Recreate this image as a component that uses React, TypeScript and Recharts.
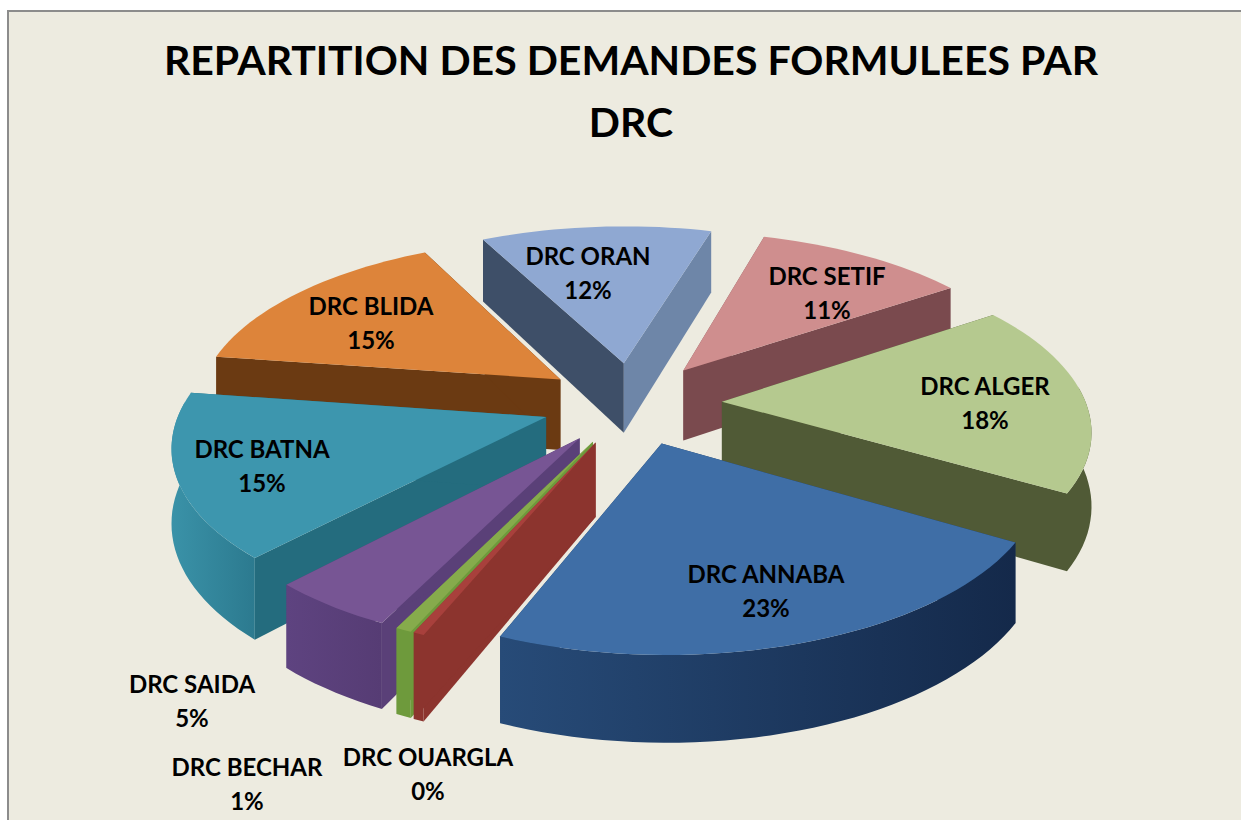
import React from 'react';
import { Pie, PieChart } from 'recharts';

const TITLE = ['REPARTITION DES DEMANDES FORMULEES PAR', 'DRC'];

const NAMES = [
  'DRC ORAN',
  'DRC SETIF',
  'DRC ALGER',
  'DRC ANNABA',
  'DRC OUARGLA',
  'DRC BECHAR',
  'DRC SAIDA',
  'DRC BATNA',
  'DRC BLIDA',
];
const VALUES = [12, 11, 18, 22.7, 0.4, 0.6, 4.7, 15.4, 15.2];

const TOP = ['#8FA8D2', '#CF8E8E', '#B5C98F', '#3F6EA6', '#A8403C', '#86AB4C', '#775594', '#3D96AE', '#DD843A'];
const SIDE_START = ['#3E4F68', '#8A5558', '#505A36', '#1E3D63', '#8C342E', '#6E9A3C', '#5A4078', '#246C7E', '#6B3A12'];
const SIDE_END = ['#6E86A8', '#7A4A4E', '#505A36', '#1E3D63', '#8C342E', '#6E9A3C', '#5A4078', '#246C7E', '#6B3A12'];
const RIM_LEFT = ['#3E4F68', '#7A4A4E', '#505A36', '#274B78', '#8C342E', '#6E9A3C', '#5E4380', '#3A92A8', '#6B3A12'];
const RIM_RIGHT = ['#3E4F68', '#7A4A4E', '#505A36', '#14294A', '#8C342E', '#6E9A3C', '#563C74', '#2C7A8F', '#6B3A12'];

// back to front, so nearer slices cover the walls of farther ones
const DRAW_ORDER = ['DRC ORAN', 'DRC SETIF', 'DRC BLIDA', 'DRC ALGER', 'DRC BATNA', 'DRC SAIDA', 'DRC BECHAR', 'DRC OUARGLA', 'DRC ANNABA'];

const data = NAMES.map((name, i) => ({ name, value: VALUES[i], fill: TOP[i] }));

const WIDTH = 1241;
const HEIGHT = 820;
const CX = 632;
const CY = 403;
const RADIUS = 364;
const FONT = 'Lato, Carlito, sans-serif';

// perspective settings of the 3D look
const TILT = 0.46;
const DEPTH = 2500;
const EXPLODE = 90;
const WALL = 72;

const LABEL_AT: Record<string, [number, number]> = {
  'DRC ORAN': [588, 272],
  'DRC SETIF': [827, 292],
  'DRC ALGER': [985, 402],
  'DRC ANNABA': [766, 590],
  'DRC BLIDA': [371, 322],
  'DRC BATNA': [262, 465],
  'DRC SAIDA': [192, 700],
  'DRC BECHAR': [247, 783],
  'DRC OUARGLA': [428, 773],
};

const RAD = Math.PI / 180;

function project(cx: number, cy: number, x: number, z: number, drop: number) {
  const s = 1 / (1 + z / DEPTH);
  return [cx + x * s, cy - TILT * z * s + drop * s];
}

const toPath = (pts: number[][]) =>
  'M' + pts.map((p) => `${p[0].toFixed(1)},${p[1].toFixed(1)}`).join('L') + 'Z';

function Slice3D(props: any) {
  const { cx, cy, outerRadius, startAngle, endAngle, payload } = props;
  const i = NAMES.indexOf(payload.name);
  // compass angles: 0 is the far side of the pie, growing clockwise
  const a0 = 90 - startAngle;
  const a1 = 90 - endAngle;
  const mid = ((a0 + a1) / 2) * RAD;
  const ox = EXPLODE * Math.sin(mid);
  const oz = EXPLODE * Math.cos(mid);

  const rim = (deg: number, drop: number) =>
    project(cx, cy, ox + outerRadius * Math.sin(deg * RAD), oz + outerRadius * Math.cos(deg * RAD), drop);
  const arc = (from: number, to: number, drop: number) => {
    const n = Math.max(1, Math.ceil(Math.abs(to - from) / 2));
    return Array.from({ length: n + 1 }, (_, k) => rim(from + ((to - from) * k) / n, drop));
  };
  const tipTop = project(cx, cy, ox, oz, 0);
  const tipLow = project(cx, cy, ox, oz, WALL);

  const norm = a0 < 0 ? 360 : 0;
  const rimFrom = Math.max(a0 + norm, 85);
  const rimTo = Math.min(a1 + norm, 275);
  const id = `rim-${i}`;

  return (
    <g>
      <defs>
        <linearGradient id={id} x1="0" y1="0" x2="1" y2="0">
          <stop offset="0%" stopColor={RIM_LEFT[i]} />
          <stop offset="100%" stopColor={RIM_RIGHT[i]} />
        </linearGradient>
      </defs>
      <path d={toPath([tipTop, rim(a0, 0), rim(a0, WALL), tipLow])} fill={SIDE_START[i]} />
      <path d={toPath([tipTop, rim(a1, 0), rim(a1, WALL), tipLow])} fill={SIDE_END[i]} />
      {rimTo > rimFrom && (
        <path
          d={toPath([...arc(rimFrom, rimTo, 0), ...arc(rimTo, rimFrom, WALL)])}
          fill={`url(#${id})`}
        />
      )}
      <path d={toPath([tipTop, ...arc(a0, a1, 0)])} fill={TOP[i]} />
    </g>
  );
}

function sliceLabel(props: any) {
  const name = props.payload?.name ?? props.name;
  const [x, y] = LABEL_AT[name];
  return (
    <text x={x} textAnchor="middle" fontFamily={FONT} fontWeight={700} fontSize={24} fill="#000">
      <tspan x={x} y={y - 7}>{name}</tspan>
      <tspan x={x} y={y + 27}>{`${Math.round(props.percent * 100)}%`}</tspan>
    </text>
  );
}

export default function App() {
  return (
    <div
      style={{
        position: 'absolute',
        left: 0,
        top: 0,
        width: WIDTH,
        height: HEIGHT,
        overflow: 'hidden',
        background: '#fff',
      }}
    >
      <div
        style={{
          position: 'absolute',
          left: 7,
          top: 10,
          width: WIDTH,
          height: HEIGHT,
          background: '#EDEBE0',
          borderLeft: '2px solid #8C8C8C',
          borderTop: '2px solid #8C8C8C',
        }}
      />
      <div
        style={{
          position: 'absolute',
          left: 0,
          top: 29,
          width: 1262,
          textAlign: 'center',
          fontFamily: FONT,
          fontWeight: 700,
          fontSize: 41,
          lineHeight: '62px',
          color: '#000',
        }}
      >
        {TITLE.map((line) => (
          <div key={line}>{line}</div>
        ))}
      </div>
      <div style={{ position: 'absolute', left: 0, top: 0 }}>
        <PieChart width={WIDTH} height={HEIGHT} margin={{ top: 0, right: 0, bottom: 0, left: 0 }}>
          {DRAW_ORDER.map((layer) => (
            <Pie
              key={layer}
              data={data}
              dataKey="value"
              nameKey="name"
              cx={CX}
              cy={CY}
              outerRadius={RADIUS}
              startAngle={117}
              endAngle={-243}
              paddingAngle={0}
              stroke="none"
              isAnimationActive={false}
              shape={(p: any) => (p.payload?.name === layer ? <Slice3D {...p} /> : <g />)}
            />
          ))}
          <Pie
            data={data}
            dataKey="value"
            nameKey="name"
            cx={CX}
            cy={CY}
            outerRadius={RADIUS}
            startAngle={117}
            endAngle={-243}
            stroke="none"
            isAnimationActive={false}
            shape={() => <g />}
            label={sliceLabel}
            labelLine={false}
          />
        </PieChart>
      </div>
    </div>
  );
}
